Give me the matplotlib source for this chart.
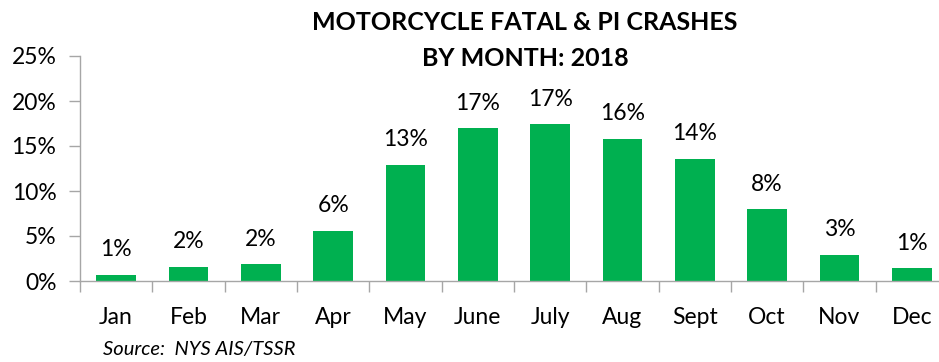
import matplotlib
matplotlib.use("Agg")
import matplotlib.pyplot as plt
import numpy as np

months = ["Jan", "Feb", "Mar", "Apr", "May", "June", "July", "Aug", "Sept", "Oct", "Nov", "Dec"]
share = [0.7, 1.6, 1.9, 5.6, 12.9, 17.0, 17.4, 15.8, 13.6, 8.0, 2.9, 1.4]
labels = ["1%", "2%", "2%", "6%", "13%", "17%", "17%", "16%", "14%", "8%", "3%", "1%"]

plt.rcParams['font.family'] = ['Lato', 'DejaVu Sans']

fig = plt.figure(figsize=(9.39, 3.62), dpi=100)
ax = fig.add_axes([80 / 939, 81 / 362, 868 / 939, 225 / 362])

x = np.arange(len(months))
bars = ax.bar(x, share, width=0.55, color="#00B050", zorder=2)
for b, lab in zip(bars, labels):
    ax.text(b.get_x() + b.get_width() / 2, b.get_height() + 1.6, lab,
            ha="center", va="bottom", fontsize=16.5, color="black")

ax.set_xlim(-0.5, len(months) - 0.5)
ax.set_ylim(0, 25)
ax.set_yticks(range(0, 26, 5))
ax.set_yticklabels([f"{v}%" for v in range(0, 26, 5)], fontsize=16.5)
ax.set_xticks(x)
ax.set_xticklabels(months, fontsize=16.5)
ax.set_xticks(np.arange(-0.5, len(months), 1), minor=True)
ax.tick_params(axis="x", which="major", length=0, pad=19)
ax.tick_params(axis="x", which="minor", length=8, color="#A6A6A6", width=1)
ax.tick_params(axis="y", length=8, color="#A6A6A6", width=1, pad=9)

for side in ["top", "right"]:
    ax.spines[side].set_visible(False)
for side in ["left", "bottom"]:
    ax.spines[side].set_color("#A6A6A6")
    ax.spines[side].set_linewidth(1)

fig.text(525 / 939, 1 - 23 / 362, "MOTORCYCLE FATAL & PI CRASHES",
         ha="center", va="center", fontsize=18, fontweight="bold")
fig.text(525 / 939, 1 - 59 / 362, "BY MONTH: 2018",
         ha="center", va="center", fontsize=18, fontweight="bold")
fig.text(103 / 939, 1 - 349 / 362, "Source:  NYS AIS/TSSR", ha="left", va="center",
         fontsize=14.5, style="italic")

fig.savefig("out.png", dpi=100)
